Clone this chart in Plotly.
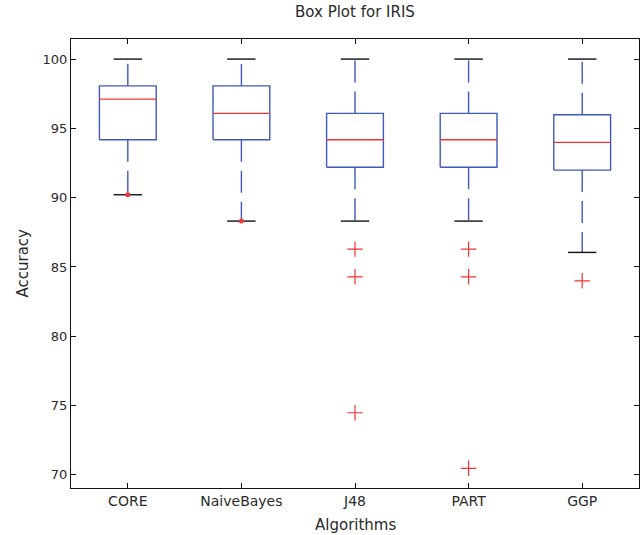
import plotly.graph_objects as go

categories = ["CORE", "NaiveBayes", "J48", "PART", "GGP"]
upper_whisker = [100.0, 100.0, 100.0, 100.0, 100.0]
q3 = [98.07, 98.07, 96.08, 96.08, 95.98]
median = [97.11, 96.08, 94.18, 94.18, 93.99]
q1 = [94.18, 94.18, 92.20, 92.20, 91.99]
lower_whisker = [90.21, 88.31, 88.31, 88.31, 86.05]
outliers = [[], [], [86.29, 84.29, 74.48], [86.29, 84.29, 70.47], [84.0]]
dots = [[90.21], [88.31], [], [], []]

BOX_HALF = 0.25
CAP_HALF = 0.125
BLUE = "#3f5abb"
RED = "#f03535"

fig = go.Figure()

for i, name in enumerate(categories):
    x = i + 1
    # whiskers (dashed, drawn from box edge outward)
    fig.add_trace(go.Scatter(x=[x, x], y=[q3[i], upper_whisker[i]], mode="lines",
                             line=dict(color=BLUE, width=1.4, dash="22px,9px"),
                             hoverinfo="skip", showlegend=False))
    fig.add_trace(go.Scatter(x=[x, x], y=[q1[i], lower_whisker[i]], mode="lines",
                             line=dict(color=BLUE, width=1.4, dash="22px,9px"),
                             hoverinfo="skip", showlegend=False))
    # caps
    for v in (upper_whisker[i], lower_whisker[i]):
        fig.add_trace(go.Scatter(x=[x - CAP_HALF, x + CAP_HALF], y=[v, v], mode="lines",
                                 line=dict(color="#111111", width=1.4),
                                 hoverinfo="skip", showlegend=False))
    # box
    fig.add_trace(go.Scatter(x=[x - BOX_HALF, x + BOX_HALF, x + BOX_HALF, x - BOX_HALF, x - BOX_HALF],
                             y=[q1[i], q1[i], q3[i], q3[i], q1[i]], mode="lines",
                             line=dict(color=BLUE, width=1.4),
                             hoverinfo="skip", showlegend=False))
    # median
    fig.add_trace(go.Scatter(x=[x - BOX_HALF, x + BOX_HALF], y=[median[i], median[i]], mode="lines",
                             line=dict(color=RED, width=1.4),
                             hoverinfo="skip", showlegend=False))
    # outliers
    if outliers[i]:
        fig.add_trace(go.Scatter(x=[x] * len(outliers[i]), y=outliers[i], mode="markers",
                                 marker=dict(symbol="cross-thin", size=11,
                                             line=dict(color=RED, width=1.2)),
                                 hoverinfo="skip", showlegend=False))
    if dots[i]:
        fig.add_trace(go.Scatter(x=[x] * len(dots[i]), y=dots[i], mode="markers",
                                 marker=dict(symbol="circle", size=5, color=RED),
                                 hoverinfo="skip", showlegend=False))

font_family = "DejaVu Sans, Verdana, sans-serif"

fig.update_layout(
    width=640, height=535,
    margin=dict(l=71, r=1, t=39, b=47),
    paper_bgcolor="white", plot_bgcolor="white",
    font=dict(family=font_family, size=14, color="#2a2a2a"),
    xaxis=dict(range=[0.5, 5.5], tickvals=[1, 2, 3, 4, 5], ticktext=categories,
               showline=True, linecolor="#111111", linewidth=1, mirror="ticks",
               ticks="inside", ticklen=5, tickcolor="#111111",
               tickfont=dict(size=14),
               showgrid=False, zeroline=False, fixedrange=True),
    yaxis=dict(range=[69.05, 101.45], tickvals=[70, 75, 80, 85, 90, 95, 100],
               showline=True, linecolor="#111111", linewidth=1, mirror="ticks",
               ticks="inside", ticklen=5, tickcolor="#111111",
               tickfont=dict(size=13),
               showgrid=False, zeroline=False, fixedrange=True),
    annotations=[
        dict(text="Box Plot for IRIS", xref="paper", yref="paper", x=0.5, y=1,
             yanchor="middle", xanchor="center", yshift=27, showarrow=False,
             font=dict(size=15)),
        dict(text="Accuracy", xref="paper", yref="paper", x=0, y=0.5,
             xanchor="center", yanchor="middle", xshift=-49, textangle=-90,
             showarrow=False, font=dict(size=15)),
        dict(text="Algorithms", xref="paper", yref="paper", x=0.5, y=0,
             xanchor="center", yanchor="middle", yshift=-37, showarrow=False,
             font=dict(size=15)),
    ],
)

fig.write_html("out.html")
